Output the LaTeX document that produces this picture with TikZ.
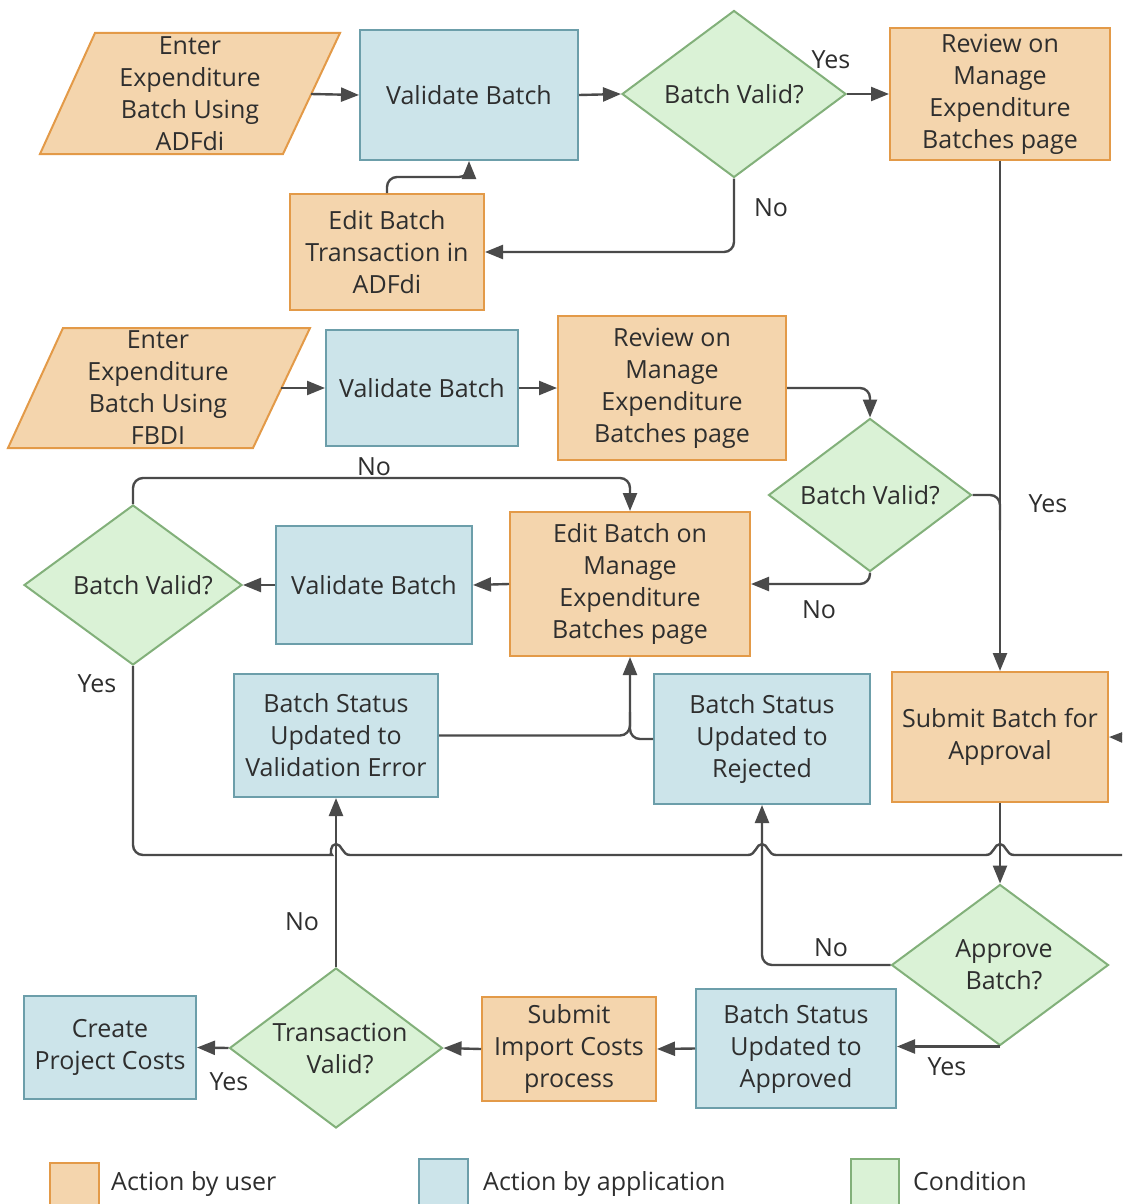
\documentclass[tikz,border=0pt]{standalone}
\usepackage{fontspec}
\setmainfont{Open Sans}
\usetikzlibrary{shapes.geometric,arrows.meta,calc}
\definecolor{ufill}{HTML}{F4D5AD}
\definecolor{udraw}{HTML}{E39A48}
\definecolor{afill}{HTML}{CCE4EA}
\definecolor{adraw}{HTML}{6C9EAA}
\definecolor{cfill}{HTML}{DAF2D6}
\definecolor{cdraw}{HTML}{82B07A}
\definecolor{lcol}{HTML}{4A4A4A}
\definecolor{tcol}{HTML}{2E2E2E}
\tikzset{
 txt/.style={font=\fontsize{25}{32}\selectfont, text=tcol, align=center, inner sep=0pt},
 ubox/.style={txt, rectangle, fill=ufill, draw=udraw, line width=2pt},
 abox/.style={txt, rectangle, fill=afill, draw=adraw, line width=2pt},
 cond/.style={txt, diamond, fill=cfill, draw=cdraw, line width=2pt, inner sep=-40pt},
 cbox/.style={txt, rectangle, fill=cfill, draw=cdraw, line width=2pt},
 para/.style={fill=ufill, draw=udraw, line width=2pt},
 conn/.style={draw=lcol, line width=2.4pt, rounded corners=10pt},
 arr/.style={conn, -{Triangle[length=18pt,width=14pt]}},
 lbl/.style={txt},
 sz/.style 2 args={minimum width=#1, minimum height=#2}
}
\begin{document}
\begin{tikzpicture}[x=1pt,y=-1pt]
\useasboundingbox (0,0) rectangle (1122,1204);
\clip (0,0) rectangle (1122,1204);

% parallelograms
\filldraw[para] (95,33) -- (340,33) -- (283,154) -- (40,154) -- cycle;
\node[txt] (p1) at (190,94) {Enter\\Expenditure\\Batch Using\\ADFdi};
\coordinate (p1r) at (311,94);
\filldraw[para] (63,328) -- (310,328) -- (253,448) -- (8,448) -- cycle;
\node[txt] (p2) at (158,388) {Enter\\Expenditure\\Batch Using\\FBDI};
\coordinate (p2r) at (281,388);

% boxes
\node[abox, sz={218}{130}] (val1) at (469,95) {Validate Batch};
\node[ubox, sz={220}{132}] (rev1) at (1000,94) {Review on\\Manage\\Expenditure\\Batches page};
\node[ubox, sz={194}{116}] (edit1) at (387,252) {Edit Batch\\Transaction in\\ADFdi};
\node[abox, sz={192}{116}] (val2) at (422,388) {Validate Batch};
\node[ubox, sz={228}{144}] (rev2) at (672,388) {Review on\\Manage\\Expenditure\\Batches page};
\node[ubox, sz={240}{144}] (edit2) at (630,584) {Edit Batch on\\Manage\\Expenditure\\Batches page};
\node[abox, sz={196}{118}] (val3) at (374,585) {Validate Batch};
\node[abox, sz={204}{123}] (valerr) at (336,735.5) {Batch Status\\Updated to\\Validation Error};
\node[abox, sz={216}{130}] (rej) at (762,739) {Batch Status\\Updated to\\Rejected};
\node[ubox, sz={216}{130}] (submit) at (1000,737) {Submit Batch for\\Approval};
\node[abox, sz={200}{119}] (appd) at (796,1048.5) {Batch Status\\Updated to\\Approved};
\node[ubox, sz={174}{104}] (subimp) at (569,1049) {Submit\\Import Costs\\process};
\node[abox, sz={172}{103}] (create) at (110,1047.5) {Create\\Project Costs};

% diamonds
\node[cond, sz={224}{167}] (d1) at (734,94) {Batch Valid?};
\node[cond, sz={203}{153}] (d2) at (870,495) {Batch Valid?};
\node[cond, sz={218}{160}] (d3) at (133,585) {\hspace*{20pt}Batch Valid?};
\node[cond, sz={217}{161}] (appr) at (1000,965) {\hspace*{8pt}Approve\\\hspace*{8pt}Batch?};
\node[cond, sz={213}{160}] (tv) at (336,1048) {\hspace*{8pt}Transaction\\\hspace*{8pt}Valid?};

% coordinates
\coordinate (c1) at (387,177);
\coordinate (c2) at (133,478);
\coordinate (c4) at (630,739);
\coordinate (c5) at (630,712);
\coordinate (c6) at (1000,495);
\coordinate (c7) at (1000,530);
\coordinate (j0) at (133,855);
\coordinate (jr) at (1140,855);
\coordinate (jr2) at (1140,738);

% connectors
\draw[arr] (p1r) -- (val1.west);
\draw[arr] (val1.east) -- (d1.west);
\draw[arr] (d1.east) -- (rev1.west);
\draw[arr] (d1.south) |- (edit1.east);
\draw[arr] (edit1.north) -- (c1) -| (val1.south);
\draw[arr] (rev1.south) -- (submit.north);
\draw[arr] (p2r) -- (val2.west);
\draw[arr] (val2.east) -- (rev2.west);
\draw[arr] (rev2.east) -| (d2.north);
\draw[conn] (d2.east) -- (c6) -- (c7);
\draw[arr] (d2.south) |- (edit2.east);
\draw[arr] (edit2.west) -- (val3.east);
\draw[arr] (val3.west) -- (d3.east);
\draw[arr] (d3.north) -- (c2) -| (edit2.north);
\draw[arr] (valerr.east) -| (edit2.south);
\draw[conn] (rej.west) -- (c4) -- (c5);
\draw[arr] (submit.south) -- (appr.north);
\draw[arr] (appr.west) -| (rej.south);
\draw[arr] (appr.south) -- (appr.south -| appd.east);
\draw[arr] (appd.west) -- (subimp.east);
\draw[arr] (subimp.west) -- (tv.east);
\draw[arr] (tv.west) -- (create.east);
\draw[arr] (tv.north) -- (valerr.south);
\draw[arr] (d3.south) -- (j0) -- (322,855) [sharp corners]
  .. controls (330,855) and (330,844) .. (336,844)
  .. controls (342,844) and (342,855) .. (350,855) -- (748,855)
  .. controls (756,855) and (756,844) .. (762,844)
  .. controls (768,844) and (768,855) .. (776,855) -- (986,855)
  .. controls (994,855) and (994,844) .. (1000,844)
  .. controls (1006,844) and (1006,855) .. (1014,855) [rounded corners=10pt]
  -- (jr) -- (jr2) -- (submit.east);

% labels
\node[lbl] (l1) at (831,60) {Yes};
\node[lbl] (l2) at (771,208) {No};
\node[lbl] (l3) at (374,467) {No};
\node[lbl] (l4) at (1048,504) {Yes};
\node[lbl] (l5) at (819,610) {No};
\node[lbl] (l6) at (97,684) {Yes};
\node[lbl] (l7) at (302,922) {No};
\node[lbl] (l8) at (831,948) {No};
\node[lbl] (l9) at (947,1067) {Yes};
\node[lbl] (l10) at (229,1082) {Yes};

% legend
\node[ubox, sz={49}{60}, anchor=north west] (lg1) at (49,1162) {};
\node[txt, anchor=base west] (lt1) at (111,1190) {Action by user};
\node[abox, sz={49}{60}, anchor=north west] (lg2) at (418,1158) {};
\node[txt, anchor=base west] (lt2) at (483,1190) {Action by application};
\node[cbox, sz={48}{60}, anchor=north west] (lg3) at (850,1158) {};
\node[txt, anchor=base west] (lt3) at (913,1190) {Condition};
\end{tikzpicture}
\end{document}
